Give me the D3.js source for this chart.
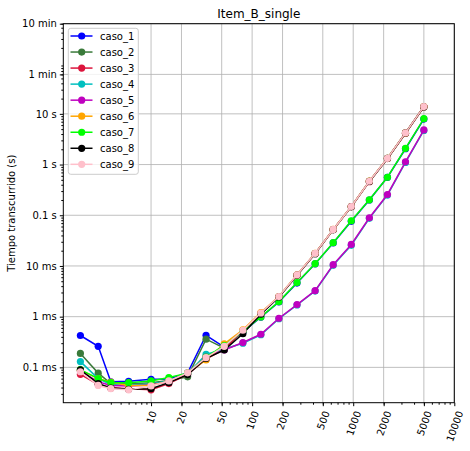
<!DOCTYPE html>
<html>
<head>
<meta charset="utf-8">
<script src="https://cdn.jsdelivr.net/npm/d3@7"></script>
<style>
  body { margin: 0; background: #fff; }
  svg { font-family: "DejaVu Sans", sans-serif; }
</style>
</head>
<body>
<svg id="chart" width="470" height="451"></svg>
<script>
// problem sizes (x) and elapsed seconds per case
var sizes = [2, 3, 4, 6, 10, 15, 23, 35, 53, 81, 122, 184, 278, 420, 634, 957, 1444, 2180, 3290, 5000];

var caso_1 = [4.25e-4, 2.6e-4, 5.2e-5, 5.3e-5, 5.8e-5, 5.9e-5, 7.8e-5, 4.3e-4, 2.5e-4, 5.0e-4, 9.8e-4, 1.95e-3, 4.6e-3, 1.1e-2, 2.85e-2, 7.6e-2, 0.2, 0.56, 2.05, 7.9];
var caso_2 = [1.88e-4, 7.7e-5, 4.8e-5, 4.7e-5, 5.0e-5, 5.5e-5, 6.5e-5, 3.6e-4, 2.4e-4, 5.2e-4, 1.15e-3, 2.45e-3, 6.5e-3, 1.75e-2, 5.2e-2, 0.147, 0.465, 1.32, 4.15, 13.7];
var caso_3 = [7.3e-5, 4.6e-5, 4.0e-5, 3.8e-5, 3.6e-5, 4.8e-5, 7.3e-5, 1.45e-4, 2.3e-4, 5.3e-4, 1.17e-3, 2.47e-3, 6.6e-3, 1.76e-2, 5.2e-2, 0.148, 0.46, 1.31, 4.15, 13.8];
var caso_4 = [1.3e-4, 6.0e-5, 4.6e-5, 4.5e-5, 4.7e-5, 5.4e-5, 7.5e-5, 1.8e-4, 2.3e-4, 3.0e-4, 4.4e-4, 9.1e-4, 1.7e-3, 3.2e-3, 1.03e-2, 2.55e-2, 0.087, 0.25, 1.1, 4.7];
var caso_5 = [8.5e-5, 5.2e-5, 4.4e-5, 4.3e-5, 4.5e-5, 5.2e-5, 7.6e-5, 1.6e-4, 2.2e-4, 3.09e-4, 4.5e-4, 9.3e-4, 1.73e-3, 3.26e-3, 1.06e-2, 2.66e-2, 0.0893, 0.257, 1.13, 4.82];
var caso_6 = [8.8e-5, 6.0e-5, 5.1e-5, 4.4e-5, 4.4e-5, 5.3e-5, 7.8e-5, 1.4e-4, 2.9e-4, 5.5e-4, 1.2e-3, 2.5e-3, 6.7e-3, 1.77e-2, 5.25e-2, 0.149, 0.47, 1.33, 4.2, 13.9];
var caso_7 = [9.0e-5, 6.0e-5, 5.0e-5, 5.0e-5, 5.4e-5, 6.3e-5, 7.7e-5, 1.6e-4, 2.7e-4, 5.1e-4, 9.9e-4, 1.98e-3, 4.7e-3, 1.11e-2, 2.88e-2, 7.8e-2, 0.202, 0.562, 2.09, 8.05];
var caso_8 = [8.9e-5, 4.8e-5, 3.9e-5, 3.7e-5, 3.8e-5, 5.0e-5, 7.2e-5, 1.5e-4, 2.2e-4, 4.6e-4, 1.12e-3, 2.45e-3, 6.6e-3, 1.75e-2, 5.2e-2, 0.148, 0.465, 1.32, 4.2, 13.8];
var caso_9 = [8.2e-5, 4.4e-5, 3.8e-5, 3.6e-5, 4.3e-5, 5.4e-5, 7.8e-5, 1.55e-4, 2.6e-4, 5.4e-4, 1.18e-3, 2.49e-3, 6.7e-3, 1.77e-2, 5.25e-2, 0.149, 0.469, 1.33, 4.21, 13.9];

var seriesNames = ['caso_1', 'caso_2', 'caso_3', 'caso_4', 'caso_5', 'caso_6', 'caso_7', 'caso_8', 'caso_9'];
var seriesValues = [caso_1, caso_2, caso_3, caso_4, caso_5, caso_6, caso_7, caso_8, caso_9];

var xTickValues = [10, 20, 50, 100, 200, 500, 1000, 2000, 5000, 10000];
var yTickValues = [600, 60, 10, 1, 0.1, 0.01, 0.001, 0.0001];
var yTickLabels = ['10 min', '1 min', '10 s', '1 s', '0.1 s', '10 ms', '1 ms', '0.1 ms'];

var colors = ['#0000ff', '#3a7a3a', '#dc143c', '#00bfbf', '#bf00bf', '#ffa500', '#00ff00', '#000000', '#ffc0cb'];

var svg = d3.select('#chart');
var plotLeft = 63.3, plotRight = 454.3, plotTop = 23.7, plotBottom = 402.7;

var x = d3.scaleLog().domain([1.355, 10000]).range([plotLeft, plotRight]);
var y = d3.scaleLog().domain([2.01e-5, 600]).range([plotBottom, plotTop]);

function minorTicks(scale) {
    var d = scale.domain(), out = [];
    for (var k = -6; k <= 4; k++) {
        for (var m = 2; m <= 9; m++) {
            var v = m * Math.pow(10, k);
            if (v >= d[0] && v <= d[1]) out.push(v);
        }
    }
    return out;
}

// grid
var grid = svg.append('g').attr('stroke', '#b0b0b0').attr('stroke-width', 0.8);
xTickValues.forEach(function(v) {
    grid.append('line').attr('x1', x(v)).attr('x2', x(v)).attr('y1', plotTop).attr('y2', plotBottom);
});
yTickValues.forEach(function(v) {
    grid.append('line').attr('x1', plotLeft).attr('x2', plotRight).attr('y1', y(v)).attr('y2', y(v));
});

// minor ticks
svg.append('g').attr('transform', 'translate(0,' + plotBottom + ')')
    .call(d3.axisBottom(x).tickValues(minorTicks(x)).tickSize(2).tickFormat(''))
    .call(function(g) { g.select('.domain').remove(); });
svg.append('g').attr('transform', 'translate(' + plotLeft + ',0)')
    .call(d3.axisLeft(y).tickValues(minorTicks(y)).tickSize(2).tickFormat(''))
    .call(function(g) { g.select('.domain').remove(); });

// major x axis
var xAxis = svg.append('g').attr('transform', 'translate(0,' + plotBottom + ')')
    .call(d3.axisBottom(x).tickValues(xTickValues).tickSize(3.5).tickFormat(d3.format('d')));
xAxis.select('.domain').remove();
xAxis.selectAll('text')
    .attr('font-size', 10).attr('font-family', 'DejaVu Sans').attr('fill', '#000')
    .attr('text-anchor', 'middle').attr('dy', null).attr('y', null)
    .each(function() {
        var L = this.getComputedTextLength();
        var a = 70 * Math.PI / 180;
        var boxH = L * Math.sin(a) + 9.5 * Math.cos(a);
        var cy = 7 + boxH / 2;
        d3.select(this).attr('transform', 'translate(0,' + cy + ') rotate(-70)').attr('dy', '0.35em');
    });

// major y axis
var yAxis = svg.append('g').attr('transform', 'translate(' + plotLeft + ',0)')
    .call(d3.axisLeft(y).tickValues(yTickValues).tickSize(3.5)
        .tickFormat(function(d, i) { return yTickLabels[i]; }));
yAxis.select('.domain').remove();
yAxis.selectAll('text').attr('font-size', 10).attr('font-family', 'DejaVu Sans').attr('fill', '#000');

// series
var line = d3.line().x(function(d) { return x(d[0]); }).y(function(d) { return y(d[1]); });
seriesValues.forEach(function(vals, i) {
    var pts = sizes.map(function(s, j) { return [s, vals[j]]; });
    var g = svg.append('g');
    g.append('path').attr('d', line(pts)).attr('fill', 'none')
        .attr('stroke', colors[i]).attr('stroke-width', 1.5);
    g.selectAll('circle').data(pts).enter().append('circle')
        .attr('cx', function(d) { return x(d[0]); })
        .attr('cy', function(d) { return y(d[1]); })
        .attr('r', 3.6).attr('fill', colors[i]);
});

// frame
svg.append('rect').attr('x', plotLeft).attr('y', plotTop)
    .attr('width', plotRight - plotLeft).attr('height', plotBottom - plotTop)
    .attr('fill', 'none').attr('stroke', '#000').attr('stroke-width', 1);

// title and label
svg.append('text').attr('x', (plotLeft + plotRight) / 2).attr('y', 17.5)
    .attr('text-anchor', 'middle').attr('font-size', 12).text('Item_B_single');
svg.append('text').attr('transform', 'translate(15,' + ((plotTop + plotBottom) / 2) + ') rotate(-90)')
    .attr('text-anchor', 'middle').attr('font-size', 10).text('Tiempo transcurrido (s)');

// legend
var legend = svg.append('g');
legend.append('rect').attr('x', 68.3).attr('y', 28.3).attr('width', 70).attr('height', 146)
    .attr('rx', 2.5).attr('fill', '#fff').attr('fill-opacity', 0.8)
    .attr('stroke', '#cccccc').attr('stroke-width', 1);
seriesNames.forEach(function(name, i) {
    var ly = 36 + i * 16.04;
    legend.append('line').attr('x1', 70.5).attr('x2', 92.5).attr('y1', ly).attr('y2', ly)
        .attr('stroke', colors[i]).attr('stroke-width', 1.5);
    legend.append('circle').attr('cx', 81.7).attr('cy', ly).attr('r', 3.6).attr('fill', colors[i]);
    legend.append('text').attr('x', 100).attr('y', ly).attr('dy', '0.35em')
        .attr('font-size', 10).text(name);
});
</script>
</body>
</html>
